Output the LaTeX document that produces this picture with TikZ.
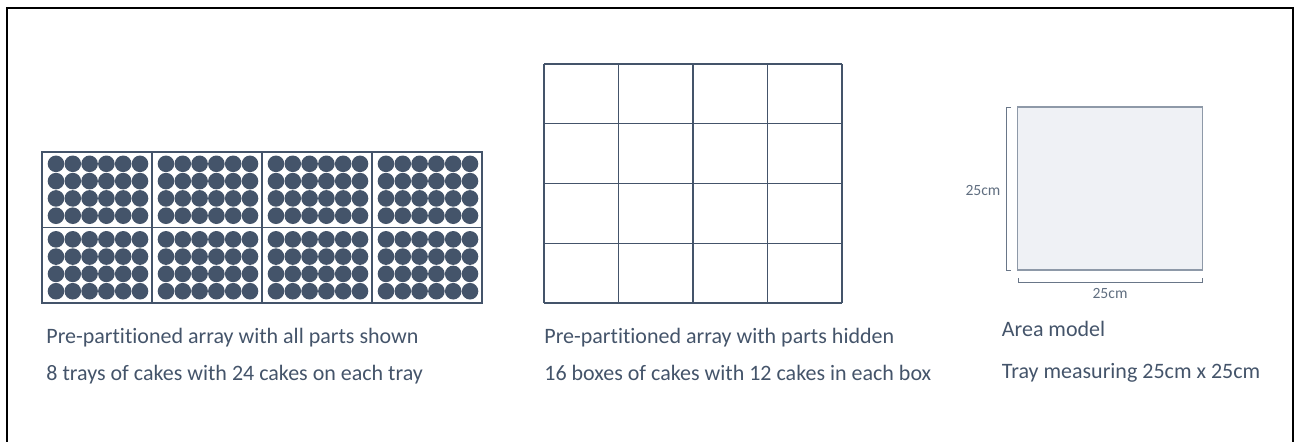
\documentclass[tikz,border=0pt]{standalone}
\usepackage{fontspec}
\setmainfont[Ligatures=NoCommon]{Carlito}
\usetikzlibrary{positioning}
\definecolor{slate}{HTML}{44546A}
\definecolor{traygrey}{HTML}{EFF1F5}
\definecolor{edgegrey}{HTML}{8E99A8}

\begin{document}
\begin{tikzpicture}[
    x=0.5pt, y=-0.5pt,
    cake/.style={fill=slate},
    tray/.style={draw=slate, line width=0.6pt},
    cell/.style={draw=slate, line width=0.7pt},
    caption/.style={anchor=base west, inner sep=0pt, text=slate, font=\fontsize{11}{13}\selectfont},
    dimlbl/.style={inner sep=0pt, text=slate!85, font=\fontsize{7.8}{9}\selectfont},
    brace/.style={draw=slate!80, line width=0.5pt}
]
\useasboundingbox (0,0) rectangle (1294,441);
\draw[line width=1pt] (7,445) -- (7,7.5) -- (1292.5,7.5) -- (1292.5,445);

% trays of cakes
\foreach \i in {0,...,3}
  \foreach \j in {0,1} {
    \draw[tray] (42+110*\i,152+75.5*\j) rectangle ++(110,75.5);
    \foreach \c in {0,...,5}
      \foreach \r in {0,...,3}
        \fill[cake] (42+110*\i+56+16.8*\c-42,152+75.5*\j+37.75+17.3*\r-25.95) circle[radius=4.15pt];
  }

% boxes, parts hidden
\foreach \k in {0,...,4} {
  \draw[cell] (544+74.5*\k,64) -- (544+74.5*\k,303);
  \draw[cell] (544,64+59.75*\k) -- (842,64+59.75*\k);
}

% area model
\draw[draw=edgegrey, fill=traygrey, line width=0.7pt] (1017.5,107) rectangle (1202.5,270);
\draw[brace] (1011,107) -- (1006.5,107) -- (1006.5,270) -- (1011,270);
\draw[brace] (1018,278) -- (1018,282) -- (1202,282) -- (1202,278);
\node[dimlbl] (side) at (983,190) {25cm};
\node[dimlbl] (base) at (1110,293) {25cm};

\node[caption] (shownA) at (46,343.5) {Pre-partitioned array with all parts shown};
\node[caption] (shownB) at (46,380) {8 trays of cakes with 24 cakes on each tray};
\node[caption] (hiddenA) at (544,343.5) {Pre-partitioned array with parts hidden};
\node[caption] (hiddenB) at (544,380) {16 boxes of cakes with 12 cakes in each box};
\node[caption] (areaA) at (1001.5,336.5) {Area model};
\node[caption] (areaB) at (1001.5,378.5) {Tray measuring 25cm x 25cm};
\end{tikzpicture}
\end{document}
